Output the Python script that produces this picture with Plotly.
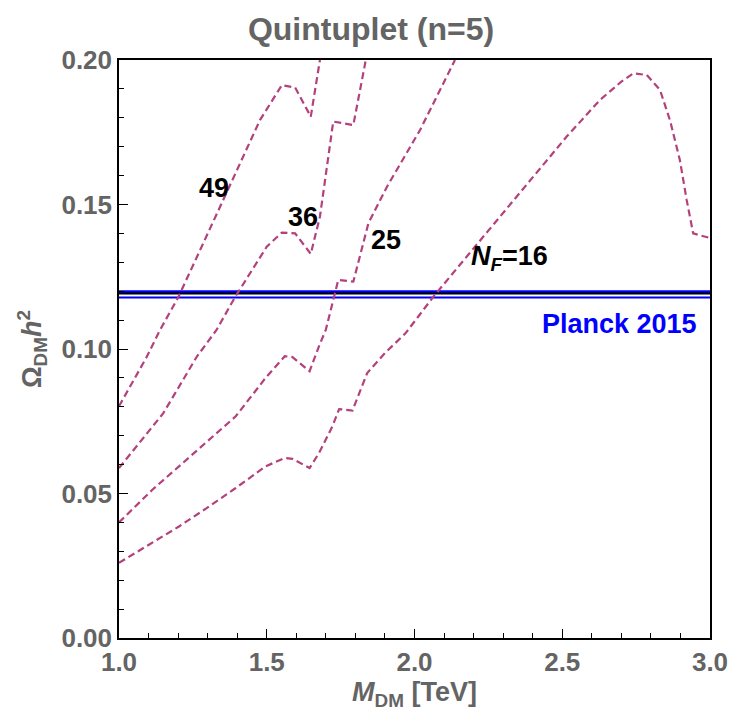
import plotly.graph_objects as go

# Data
m16 = [1.0, 1.113, 1.203, 1.293, 1.395, 1.496, 1.561, 1.587, 1.645, 1.677, 1.722, 1.745, 1.79, 1.84, 1.90, 1.97,
       2.064, 2.177, 2.289, 2.402, 2.515, 2.628, 2.70, 2.741, 2.786, 2.831, 2.865, 2.898, 2.921, 2.943, 3.0]
o16 = [0.026, 0.0331, 0.0386, 0.0447, 0.0519, 0.0594, 0.0623, 0.062, 0.0588, 0.064, 0.0732, 0.0792, 0.0787, 0.0917, 0.0986, 0.1055,
       0.1181, 0.132, 0.1458, 0.1596, 0.1735, 0.1862, 0.1925, 0.1954, 0.1948, 0.1896, 0.179, 0.1654, 0.1516, 0.140, 0.1384]

m25 = [1.0, 1.113, 1.203, 1.293, 1.395, 1.496, 1.561, 1.587, 1.645, 1.677, 1.70, 1.742, 1.793, 1.844, 1.906, 2.019, 2.137]
o25 = [0.040, 0.0513, 0.0594, 0.0675, 0.0767, 0.0900, 0.0975, 0.0972, 0.0923, 0.101, 0.1067, 0.1239, 0.1233, 0.1435, 0.156, 0.1758, 0.200]

m36 = [1.0, 1.15, 1.263, 1.33, 1.393, 1.500, 1.551, 1.596, 1.649, 1.680, 1.725, 1.793, 1.832, 1.835]
o36 = [0.0588, 0.0778, 0.0973, 0.1066, 0.118, 0.1354, 0.1403, 0.140, 0.1329, 0.1458, 0.1787, 0.1775, 0.1983, 0.200]

m49 = [1.0, 1.094, 1.139, 1.201, 1.342, 1.477, 1.551, 1.596, 1.649, 1.680]
o49 = [0.0802, 0.0973, 0.1066, 0.118, 0.1492, 0.1792, 0.1913, 0.1905, 0.1804, 0.200]

planck_lines = [0.1198, 0.1192, 0.1178]
planck_colors = ["#0000ff", "#000000", "#0000ff"]
planck_widths = [3, 2, 2]

curve_labels = ["49", "36", "25", "<i>N</i><sub><i>F</i></sub>=16"]
label_x = [1.3215, 1.6227, 1.9036, 2.323]
label_y = [0.1557, 0.1457, 0.1377, 0.1315]

x_range = [1.0, 3.0]
y_range = [0.0, 0.20]

curve_color = "rgb(180,64,124)"
gray = "rgb(100,100,100)"
font_family = "Liberation Sans, Arial, sans-serif"

fig = go.Figure()

for yv, c, w in zip(planck_lines, planck_colors, planck_widths):
    fig.add_trace(go.Scatter(x=x_range, y=[yv, yv], mode="lines",
                             line=dict(color=c, width=w), showlegend=False, hoverinfo="skip",
                             cliponaxis=False))

for mx, oy in [(m16, o16), (m25, o25), (m36, o36), (m49, o49)]:
    fig.add_trace(go.Scatter(x=mx, y=oy, mode="lines",
                             line=dict(color=curve_color, width=2.2, dash="7px,4px"),
                             showlegend=False))

for t, lx, ly in zip(curve_labels, label_x, label_y):
    fig.add_annotation(x=lx, y=ly, text="<b>" + t + "</b>", showarrow=False,
                       font=dict(family=font_family, size=27, color="black"))

fig.add_annotation(x=2.9628, y=0.1087, text="<b>Planck 2015</b>", showarrow=False, xanchor="right",
                   font=dict(family=font_family, size=27, color="#0000ff"))

fig.update_layout(
    width=742, height=716,
    margin=dict(l=119, r=32, t=60, b=78),
    paper_bgcolor="white", plot_bgcolor="white",
    title=dict(text="<b>Quintuplet (n=5)</b>", x=0.5, xanchor="center", y=0.96, yanchor="middle",
               font=dict(family=font_family, size=32, color=gray)),
    xaxis=dict(range=x_range, dtick=0.5, tick0=1.0, tickformat=".1f",
               showgrid=False, zeroline=False, showline=True, linecolor="black", linewidth=1.5,
               mirror=True, ticks="inside", ticklen=9, tickcolor="black",
               minor=dict(dtick=0.1, ticks="inside", ticklen=5, tickcolor="black"),
               tickfont=dict(family=font_family, size=26, color=gray, weight="bold"),
               title=dict(text="<b><i>M</i><sub>DM</sub> [TeV]</b>", standoff=4,
                          font=dict(family=font_family, size=27, color=gray))),
    yaxis=dict(range=y_range, dtick=0.05, tick0=0, tickformat=".2f",
               showgrid=False, zeroline=False, showline=True, linecolor="black", linewidth=1.5,
               mirror=True, ticks="inside", ticklen=9, tickcolor="black",
               minor=dict(dtick=0.01, ticks="inside", ticklen=5, tickcolor="black"),
               tickfont=dict(family=font_family, size=26, color=gray, weight="bold"),
               title=dict(text="<b>Ω<sub>DM</sub><i>h</i><sup>2</sup></b>", standoff=12,
                          font=dict(family=font_family, size=27, color=gray))),
)

fig.write_html("out.html")
